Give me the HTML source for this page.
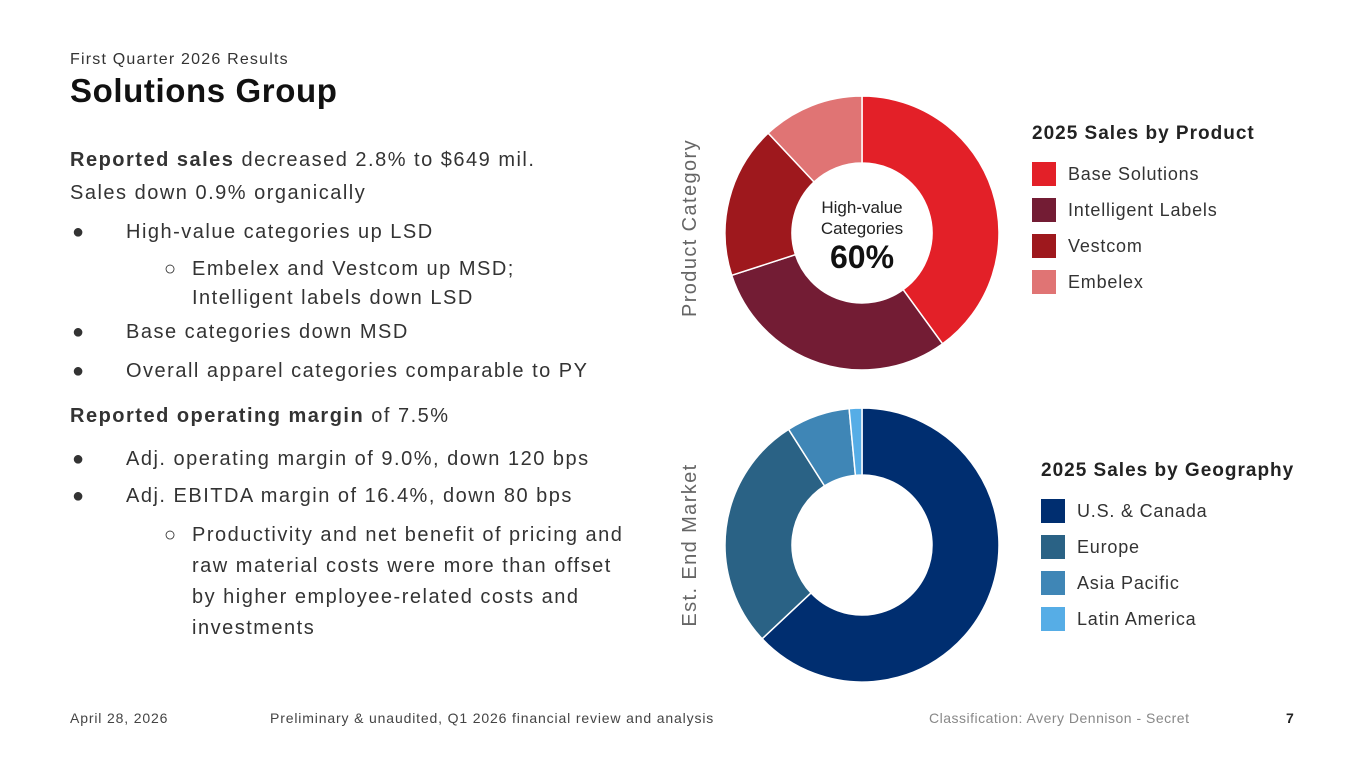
<!DOCTYPE html>
<html><head><meta charset="utf-8"><style>
body{margin:0;width:1365px;height:768px;background:#fff;font-family:"Liberation Sans",sans-serif;color:#222;position:relative;overflow:hidden}
.t{position:absolute;white-space:nowrap}
.b{font-size:20px;color:#333;letter-spacing:1.5px}
.sw{position:absolute;width:24px;height:24px}
.lg{position:absolute;font-size:18px;color:#333;white-space:nowrap;letter-spacing:0.8px}
.ft{position:absolute;top:710px;font-size:14px;color:#444;white-space:nowrap;letter-spacing:0.85px}
</style></head><body>
<div class="t" style="left:70px;top:51px;font-size:16px;color:#333;letter-spacing:1.2px">First Quarter 2026 Results</div>
<div class="t" style="left:70px;top:72px;font-size:33px;font-weight:bold;color:#111;letter-spacing:0.6px">Solutions Group</div>
<div class="t b" style="left:70px;top:149px"><b>Reported sales</b> decreased 2.8% to $649 mil.</div>
<div class="t b" style="left:70px;top:182px">Sales down 0.9% organically</div>
<div class="t b" style="left:72px;top:221px">●</div>
<div class="t b" style="left:126px;top:221px">High-value categories up LSD</div>
<div class="t b" style="left:164px;top:258px">○</div>
<div class="t b" style="left:192px;top:258px">Embelex and Vestcom up MSD;</div>
<div class="t b" style="left:192px;top:287px">Intelligent labels down LSD</div>
<div class="t b" style="left:72px;top:321px">●</div>
<div class="t b" style="left:126px;top:321px">Base categories down MSD</div>
<div class="t b" style="left:72px;top:360px">●</div>
<div class="t b" style="left:126px;top:360px">Overall apparel categories comparable to PY</div>
<div class="t b" style="left:70px;top:405px"><b>Reported operating margin</b> of 7.5%</div>
<div class="t b" style="left:72px;top:448px">●</div>
<div class="t b" style="left:126px;top:448px">Adj. operating margin of 9.0%, down 120 bps</div>
<div class="t b" style="left:72px;top:485px">●</div>
<div class="t b" style="left:126px;top:485px">Adj. EBITDA margin of 16.4%, down 80 bps</div>
<div class="t b" style="left:164px;top:524px">○</div>
<div class="t b" style="left:192px;top:524px">Productivity and net benefit of pricing and</div>
<div class="t b" style="left:192px;top:555px">raw material costs were more than offset</div>
<div class="t b" style="left:192px;top:586px">by higher employee-related costs and</div>
<div class="t b" style="left:192px;top:617px">investments</div>

<svg id="ch" width="1365" height="768" style="position:absolute;left:0;top:0">
<text x="696" y="228" transform="rotate(-90 696 228)" text-anchor="middle" font-size="20" letter-spacing="1.4" fill="#666" font-family="Liberation Sans">Product Category</text>
<text x="696" y="545" transform="rotate(-90 696 545)" text-anchor="middle" font-size="20" letter-spacing="1.4" fill="#666" font-family="Liberation Sans">Est. End Market</text>
<text x="862" y="213" text-anchor="middle" font-size="17" fill="#222" font-family="Liberation Sans">High-value</text>
<text x="862" y="234" text-anchor="middle" font-size="17" fill="#222" font-family="Liberation Sans">Categories</text>
<text x="862" y="268" text-anchor="middle" font-size="32" font-weight="bold" fill="#111" font-family="Liberation Sans">60%</text>
</svg>

<div class="t" style="left:1032px;top:123px;font-size:19px;font-weight:bold;color:#222;letter-spacing:1px">2025 Sales by Product</div>
<div class="t" style="left:1041px;top:460px;font-size:19px;font-weight:bold;color:#222;letter-spacing:1px">2025 Sales by Geography</div>
<div id="legends"></div>

<div class="ft" style="left:70px">April 28, 2026</div>
<div class="ft" style="left:270px">Preliminary &amp; unaudited, Q1 2026 financial review and analysis</div>
<div class="ft" style="left:929px;color:#888;letter-spacing:0.5px">Classification: Avery Dennison - Secret</div>
<div class="ft" style="left:1286px;font-weight:bold;color:#222">7</div>

<script>
const productCategories=["Base Solutions","Intelligent Labels","Vestcom","Embelex"];
const productValues=[40,30,18,12];
const productColors=["#e32028","#731c34","#9e181d","#e07474"];
const geoCategories=["U.S. & Canada","Europe","Asia Pacific","Latin America"];
const geoValues=[63,28,7.5,1.5];
const geoColors=["#002e70","#2a6285","#3f86b6","#56ade6"];
const NS="http://www.w3.org/2000/svg";
const svg=document.getElementById('ch');
function donut(cx,cy,R,r,vals,cols,names,prefix){
  const tot=vals.reduce((a,b)=>a+b,0);let a0=0;
  const g=document.createElementNS(NS,'g');
  
  
  svg.insertBefore(g,svg.firstChild);
  vals.forEach((v,i)=>{
    const a1=a0+v/tot*2*Math.PI;
    const p=(a,rad)=>[cx+rad*Math.sin(a),cy-rad*Math.cos(a)];
    const [x0,y0]=p(a0,R),[x1,y1]=p(a1,R),[x2,y2]=p(a1,r),[x3,y3]=p(a0,r);
    const lg=(a1-a0)>Math.PI?1:0;
    const path=document.createElementNS(NS,'path');
    path.setAttribute('d',`M${x0},${y0}A${R},${R} 0 ${lg} 1 ${x1},${y1}L${x2},${y2}A${r},${r} 0 ${lg} 0 ${x3},${y3}Z`);
    path.setAttribute('fill',cols[i]);path.setAttribute('stroke','#fff');path.setAttribute('stroke-width','1.5');
    
    
    g.appendChild(path);a0=a1;
  });
}
donut(862,233,137,70,productValues,productColors,productCategories,'product');
donut(862,545,137,70,geoValues,geoColors,geoCategories,'geo');
const L=document.getElementById('legends');
function legend(x,y,names,cols,prefix){
  names.forEach((n,i)=>{
    const s=document.createElement('div');s.className='sw';
    s.style.left=x+'px';s.style.top=(y+i*36)+'px';s.style.background=cols[i];
    
    
    L.appendChild(s);
    const t=document.createElement('div');t.className='lg';
    t.style.left=(x+36)+'px';t.style.top=(y+i*36+2)+'px';t.textContent=n;
    
    
    L.appendChild(t);
  });
}
legend(1032,162,productCategories,productColors,'product');
legend(1041,499,geoCategories,geoColors,'geo');
</script>
</body></html>
